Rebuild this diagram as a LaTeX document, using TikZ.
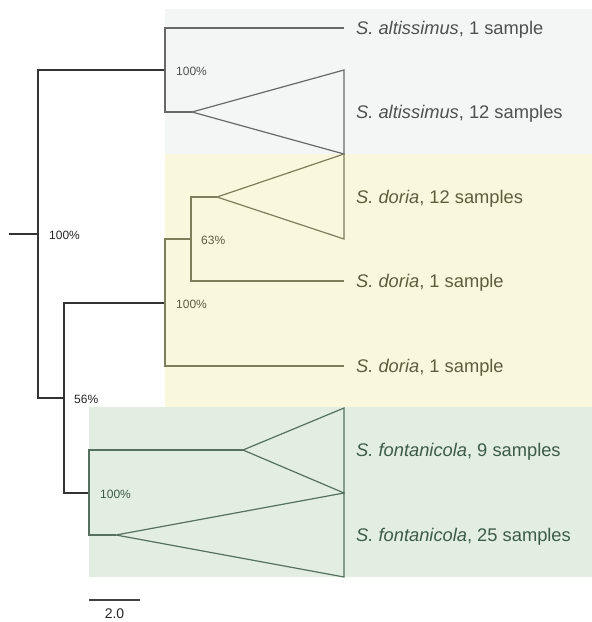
\documentclass[tikz,border=0pt]{standalone}
\usepackage{fontspec}
\setmainfont{Liberation Sans}
\usetikzlibrary{positioning}

\definecolor{altbg}{HTML}{F4F6F6}
\definecolor{doriabg}{HTML}{FAF8DC}
\definecolor{fontbg}{HTML}{E2EEE2}
\definecolor{altln}{HTML}{686868}
\definecolor{doriln}{HTML}{7E7D5C}
\definecolor{fontln}{HTML}{56705F}
\definecolor{alttx}{HTML}{505050}
\definecolor{doritx}{HTML}{5E5D3E}
\definecolor{fonttx}{HTML}{3E5A49}

\begin{document}
\begin{tikzpicture}[x=1pt,y=-1pt,
  taxon/.style={anchor=base west,inner sep=0pt,font=\fontsize{18.3}{22}\selectfont},
  support/.style={anchor=west,inner sep=0pt,font=\fontsize{12}{14}\selectfont},
  branch/.style={line width=1.2pt,line join=miter}]
\useasboundingbox (0,0) rectangle (592,622);
% clade boxes
\fill[altbg] (165,9) rectangle (592,154);
\fill[doriabg] (165,154) rectangle (592,407);
\fill[fontbg] (89,407) rectangle (592,577);

% inner nodes and tips
\coordinate (stub) at (9,234);
\coordinate (root) at (38,234);
\coordinate (alt) at (165,70);
\coordinate (n56) at (64,398);
\coordinate (dor) at (165,303);
\coordinate (d63) at (191,239);
\coordinate (fon) at (89,493);
\coordinate (altA) at (192,112);
\coordinate (dorA) at (217,197);
\coordinate (fonA) at (243,450);
\coordinate (fonB) at (116,535);
\coordinate (alt1) at (344,28);
\coordinate (dor1) at (344,281);
\coordinate (dor2) at (344,366);

% backbone
\draw[branch,black!80] (stub) -- (root);
\draw[branch,black!80] (alt) -| (root) |- (n56);
\draw[branch,black!80] (dor) -| (n56) |- (fon);

% S. altissimus
\draw[branch,altln] (alt1) -| (alt) |- (altA);
\draw[branch,altln] (altA) -- (344,70) -- (344,154) -- cycle;

% S. doria
\draw[branch,doriln] (d63) -| (dor) |- (dor2);
\draw[branch,doriln] (dorA) -| (d63) |- (dor1);
\draw[branch,doriln] (dorA) -- (344,154) -- (344,239) -- cycle;

% S. fontanicola
\draw[branch,fontln] (fonA) -| (fon) |- (fonB);
\draw[branch,fontln] (fonA) -- (344,408) -- (344,493) -- cycle;
\draw[branch,fontln] (fonB) -- (344,493) -- (344,577) -- cycle;

% support values
\node[support,text=black!85] (s1) at (49,235) {100\%};
\node[support,text=alttx] (s2) at (176,71) {100\%};
\node[support,text=doritx] (s3) at (201,240) {63\%};
\node[support,text=doritx] (s4) at (176,304) {100\%};
\node[support,text=black!85] (s5) at (74,399) {56\%};
\node[support,text=fonttx] (s6) at (100,494) {100\%};

% tip labels
\foreach \y/\sp/\n/\c in {28/altissimus/1 sample/alttx,112/altissimus/12 samples/alttx,
    197/doria/12 samples/doritx,281/doria/1 sample/doritx,366/doria/1 sample/doritx,
    450/fontanicola/9 samples/fonttx,535/fontanicola/25 samples/fonttx}{
  \node[taxon,text=\c] (lab\y) at (356,\y+6.5) {\textit{S.~\sp}, \n};
}

% scale bar
\coordinate (sb1) at (89,600);
\coordinate (sb2) at (140,600);
\draw[line width=1.2pt,black!75] (sb1) -- (sb2)
  node[midway,below=8pt,inner sep=0pt,font=\fontsize{14}{16}\selectfont,text=black!85] (sbl) {2.0};
\end{tikzpicture}
\end{document}
